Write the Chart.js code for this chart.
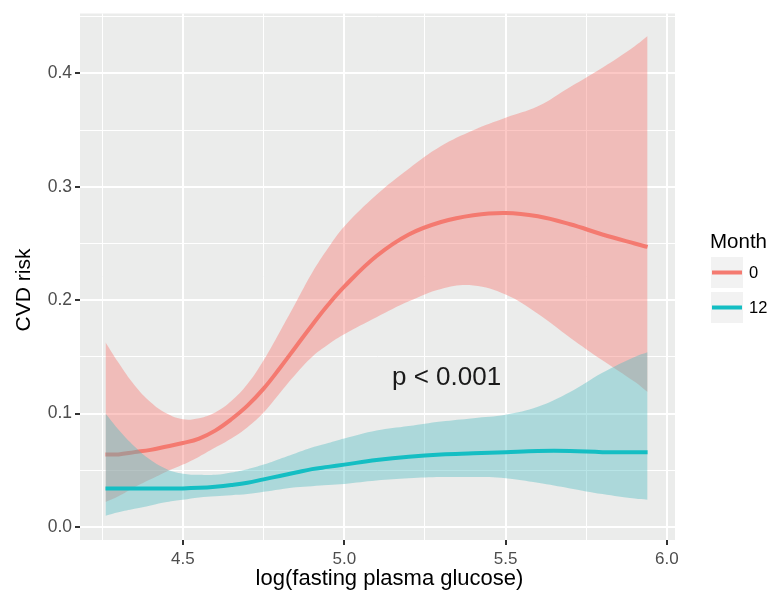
<!DOCTYPE html>
<html>
<head>
<meta charset="utf-8">
<script src="https://cdn.jsdelivr.net/npm/chart.js@4.4.1/dist/chart.umd.min.js"></script>
<style>
  html, body { margin: 0; padding: 0; background: #ffffff; }
  #wrap { width: 772px; height: 593px; position: relative; }
</style>
</head>
<body>
<div id="wrap"><canvas id="c" width="772" height="593"></canvas></div>
<script>
// ---- data ----
const glucose = [4.26, 4.30, 4.35, 4.40, 4.45, 4.50, 4.55, 4.60, 4.65, 4.70, 4.75, 4.80, 4.85, 4.90, 4.95, 5.00, 5.10, 5.20, 5.30, 5.40, 5.50, 5.60, 5.70, 5.80, 5.90, 5.94];

const month0Fit   = [0.064, 0.064, 0.066, 0.068, 0.071, 0.074, 0.078, 0.085, 0.095, 0.107, 0.122, 0.140, 0.159, 0.178, 0.196, 0.212, 0.239, 0.258, 0.269, 0.275, 0.277, 0.274, 0.267, 0.258, 0.250, 0.247];
const month0Upper = [0.163, 0.145, 0.125, 0.110, 0.100, 0.095, 0.096, 0.101, 0.111, 0.126, 0.147, 0.172, 0.198, 0.224, 0.246, 0.265, 0.293, 0.316, 0.336, 0.350, 0.361, 0.371, 0.388, 0.405, 0.424, 0.433];
const month0Lower = [0.022, 0.027, 0.035, 0.042, 0.049, 0.055, 0.062, 0.070, 0.078, 0.088, 0.101, 0.118, 0.135, 0.150, 0.161, 0.170, 0.185, 0.199, 0.210, 0.213, 0.205, 0.188, 0.167, 0.147, 0.128, 0.119];

const month12Fit   = [0.034, 0.034, 0.034, 0.034, 0.034, 0.034, 0.0345, 0.0355, 0.037, 0.039, 0.042, 0.045, 0.048, 0.051, 0.053, 0.055, 0.059, 0.062, 0.064, 0.065, 0.066, 0.067, 0.067, 0.066, 0.066, 0.066];
const month12Upper = [0.100, 0.086, 0.071, 0.059, 0.051, 0.047, 0.046, 0.046, 0.048, 0.051, 0.055, 0.060, 0.065, 0.070, 0.074, 0.078, 0.085, 0.089, 0.093, 0.096, 0.099, 0.106, 0.119, 0.136, 0.150, 0.154];
const month12Lower = [0.010, 0.013, 0.016, 0.019, 0.022, 0.024, 0.026, 0.027, 0.028, 0.029, 0.031, 0.033, 0.035, 0.036, 0.037, 0.038, 0.041, 0.043, 0.044, 0.044, 0.043, 0.039, 0.034, 0.029, 0.025, 0.024];

const monthLabels = ['0', '12'];
const xMajorTicks = [4.5, 5.0, 5.5, 6.0];
const xMinorTicks = [4.25, 4.75, 5.25, 5.75];
const yMajorTicks = [0.0, 0.1, 0.2, 0.3, 0.4];
const yMinorTicks = [0.05, 0.15, 0.25, 0.35, 0.45];
const annotationText = 'p < 0.001';
const annotationPos = { x: 5.317, y: 0.133 };
const xTitle = 'log(fasting plasma glucose)';
const yTitle = 'CVD risk';
const legendTitle = 'Month';

// ---- styling ----
const RED = '#F47A70', TEAL = '#14BEC3';
const RED_FILL = 'rgba(248,118,109,0.4)', TEAL_FILL = 'rgba(77,187,192,0.4)';
const FONT = '"Liberation Sans", Arial, Helvetica, sans-serif';

const pts = (ys) => glucose.map((x, i) => ({ x: x, y: ys[i] }));
const isIn = (arr, v) => arr.some(a => Math.abs(a - v) < 1e-9);

const panelPlugin = {
  id: 'panel',
  beforeDraw(chart) {
    const { ctx, chartArea: a } = chart;
    ctx.save();
    ctx.fillStyle = '#ffffff';
    ctx.fillRect(0, 0, chart.width, chart.height);
    ctx.fillStyle = '#EBECEB';
    ctx.fillRect(a.left, a.top, a.right - a.left, a.bottom - a.top);
    ctx.restore();
  },
  afterDraw(chart) {
    const { ctx, chartArea: a, scales } = chart;
    const xs = scales.x, ys = scales.y;
    ctx.save();
    // annotation
    ctx.fillStyle = '#1a1a1a';
    ctx.font = '26px ' + FONT;
    ctx.textAlign = 'center';
    ctx.textBaseline = 'alphabetic';
    ctx.fillText(annotationText, xs.getPixelForValue(annotationPos.x), ys.getPixelForValue(annotationPos.y) + 9);
    // axis titles
    ctx.fillStyle = '#000000';
    ctx.font = '22px ' + FONT;
    ctx.textAlign = 'center';
    ctx.fillText(xTitle, (a.left + a.right) / 2 + 12, 585);
    ctx.save();
    ctx.font = '21px ' + FONT;
    ctx.translate(30, 290);
    ctx.rotate(-Math.PI / 2);
    ctx.fillText(yTitle, 0, 0);
    ctx.restore();
    // legend
    ctx.textAlign = 'left';
    ctx.font = '20.5px ' + FONT;
    ctx.fillText(legendTitle, 710, 248);
    const items = [
      { label: monthLabels[0], color: RED, y: 257 },
      { label: monthLabels[1], color: TEAL, y: 292 }
    ];
    items.forEach(it => {
      ctx.fillStyle = '#F2F2F2';
      ctx.fillRect(711, it.y, 32, 31);
      ctx.strokeStyle = it.color;
      ctx.lineWidth = 4;
      ctx.beginPath();
      ctx.moveTo(712, it.y + 15.5);
      ctx.lineTo(742, it.y + 15.5);
      ctx.stroke();
      ctx.fillStyle = '#000000';
      ctx.font = '16.5px ' + FONT;
      ctx.textBaseline = 'middle';
      ctx.fillText(it.label, 749, it.y + 16);
    });
    ctx.restore();
  }
};

const lineBase = { pointRadius: 0, pointHoverRadius: 0, tension: 0.4, borderCapStyle: 'butt', borderJoinStyle: 'round' };

new Chart(document.getElementById('c'), {
  type: 'line',
  data: {
    datasets: [
      Object.assign({}, lineBase, { label: 'm0 upper', data: pts(month0Upper), borderWidth: 0, borderColor: 'rgba(0,0,0,0)', backgroundColor: RED_FILL, fill: '+1', order: 40 }),
      Object.assign({}, lineBase, { label: 'm0 lower', data: pts(month0Lower), borderWidth: 0, borderColor: 'rgba(0,0,0,0)', fill: false, order: 39 }),
      Object.assign({}, lineBase, { label: monthLabels[0], data: pts(month0Fit), borderWidth: 4, borderColor: RED, fill: false, order: 30 }),
      Object.assign({}, lineBase, { label: 'm12 upper', data: pts(month12Upper), borderWidth: 0, borderColor: 'rgba(0,0,0,0)', backgroundColor: TEAL_FILL, fill: '+1', order: 20 }),
      Object.assign({}, lineBase, { label: 'm12 lower', data: pts(month12Lower), borderWidth: 0, borderColor: 'rgba(0,0,0,0)', fill: false, order: 19 }),
      Object.assign({}, lineBase, { label: monthLabels[1], data: pts(month12Fit), borderWidth: 4, borderColor: TEAL, fill: false, order: 10 })
    ]
  },
  options: {
    responsive: false,
    animation: false,
    events: [],
    layout: { padding: { left: 0, top: 13, right: 97, bottom: 0 } },
    plugins: { legend: { display: false }, tooltip: { enabled: false }, title: { display: false } },
    scales: {
      x: {
        type: 'linear',
        min: 4.181, max: 6.025,
        afterBuildTicks(scale) {
          scale.ticks = xMinorTicks.concat(xMajorTicks).sort((a, b) => a - b).map(v => ({ value: v }));
        },
        afterFit(scale) { scale.height = 53; },
        border: { display: false },
        grid: {
          color: '#ffffff',
          lineWidth: (c) => isIn(xMajorTicks, c.tick.value) ? 2 : 1,
          tickColor: (c) => isIn(xMajorTicks, c.tick.value) ? '#333333' : 'rgba(0,0,0,0)',
          tickWidth: 2,
          tickLength: 5
        },
        ticks: {
          autoSkip: false,
          maxRotation: 0,
          padding: 4,
          color: '#4D4D4D',
          font: { family: FONT, size: 17 },
          callback: (v) => isIn(xMajorTicks, v) ? Number(v).toFixed(1) : ''
        }
      },
      y: {
        type: 'linear',
        min: -0.0115, max: 0.4529,
        afterBuildTicks(scale) {
          scale.ticks = yMinorTicks.concat(yMajorTicks).sort((a, b) => a - b).map(v => ({ value: v }));
        },
        afterFit(scale) { scale.width = 80; },
        border: { display: false },
        grid: {
          color: '#ffffff',
          lineWidth: (c) => isIn(yMajorTicks, c.tick.value) ? 2 : 1,
          tickColor: (c) => isIn(yMajorTicks, c.tick.value) ? '#333333' : 'rgba(0,0,0,0)',
          tickWidth: 2,
          tickLength: 5
        },
        ticks: {
          autoSkip: false,
          padding: 3,
          color: '#4D4D4D',
          font: { family: FONT, size: 17.5 },
          callback: (v) => isIn(yMajorTicks, v) ? Number(v).toFixed(1) : ''
        }
      }
    }
  },
  plugins: [panelPlugin]
});
</script>
</body>
</html>
